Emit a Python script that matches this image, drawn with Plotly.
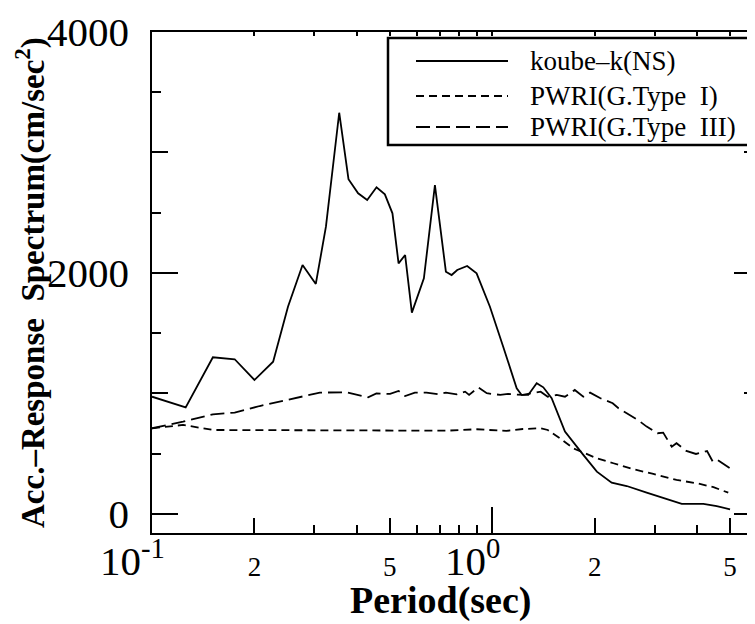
import numpy as np
import plotly.graph_objects as go

# ---------------- data ----------------
period_ns = [0.1, 0.1256, 0.151, 0.175, 0.2, 0.227, 0.251, 0.277, 0.303, 0.3245,
             0.355, 0.378, 0.4035, 0.429, 0.457, 0.4835, 0.509, 0.5305, 0.5546, 0.5805,
             0.6297, 0.6785, 0.7308, 0.7596, 0.789, 0.844, 0.8996, 0.9845, 1.077, 1.18,
             1.22, 1.276, 1.351, 1.413, 1.495, 1.636, 1.852, 2.03, 2.244, 2.485,
             2.844, 3.26, 3.606, 4.175, 4.57, 5.0]
acc_ns = [973, 885, 1300, 1284, 1112, 1264, 1720, 2066, 1909, 2384,
          3330, 2778, 2661, 2606, 2711, 2653, 2495, 2080, 2149, 1671,
          1956, 2730, 2011, 1983, 2025, 2058, 1997, 1720, 1388, 1043,
          988, 988, 1085, 1051, 960, 683, 490, 351, 260, 232,
          177, 122, 83, 83, 66, 39]

period_t1 = [0.1, 0.1234, 0.151, 0.2, 0.3, 0.4, 0.5, 0.6, 0.7308, 0.9, 1.1, 1.23,
             1.388, 1.456, 1.582, 1.73, 1.895, 2.03, 2.27, 2.60, 2.975, 3.48, 3.99,
             4.47, 4.94]
acc_t1 = [711, 739, 697, 697, 697, 697, 697, 697, 691, 703, 689, 705,
          711, 697, 628, 545, 498, 462, 421, 371, 332, 282, 255,
          222, 177]

period_t3 = [0.1, 0.1234, 0.151, 0.175, 0.2073, 0.2485, 0.2845, 0.3114, 0.373, 0.408,
             0.4318, 0.4566, 0.501, 0.5305, 0.5546, 0.5923, 0.6407, 0.6937, 0.7308, 0.7865,
             0.8325, 0.855, 0.9104, 0.9636, 1.0557, 1.1137, 1.23, 1.388, 1.456, 1.547,
             1.636, 1.748, 1.852, 1.939, 2.08, 2.26, 2.35, 2.485, 2.68, 2.844,
             3.06, 3.18, 3.37, 3.48, 3.72, 3.97, 4.28, 4.45, 4.6, 5.0]
acc_t3 = [711, 766, 827, 841, 896, 946, 988, 1007, 1010, 988,
          968, 1001, 996, 1021, 979, 1007, 1007, 993, 1007, 993,
          1015, 988, 1051, 1002, 988, 996, 988, 1015, 973, 988,
          973, 1029, 973, 1007, 960, 919, 877, 836, 780, 725,
          670, 675, 558, 587, 523, 498, 523, 434, 448, 379]

series_names = ["koube\u2013k(NS)", "PWRI(G.Type\u00a0 I)", "PWRI(G.Type\u00a0 III)"]

x_decade_vals = [0.1, 1]
x_decade_text = ["10<sup>-1</sup>", "10<sup>0</sup>"]
x_mid_vals = [0.2, 0.5, 2, 5]
x_mid_text = ["2", "5", "2", "5"]
x_minor_vals = [0.3, 0.4, 0.6, 0.7, 0.8, 0.9, 3, 4]
y_major_vals = [0, 2000, 4000]
y_major_text = ["0", "2000", "4000"]
y_mid_vals = [1000, 3000]
y_minor_vals = [500, 1500, 2500, 3500]

x_range = [-1, 0.787]
y_range = [-158, 4000]

FONT = "Liberation Serif, Times New Roman, serif"
OFF = 8  # page body margin of the browser
W, H = 755, 624
ML, MR, MT, MB = 144, 3, 24, 99
PW, PH = W - ML - MR, H - MT - MB


def xp(px):
    """screen pixel x -> paper coordinate"""
    return (px - OFF - ML) / PW


def yp(py):
    """screen pixel y -> paper coordinate"""
    return (H - MB - (py - OFF)) / PH


fig = go.Figure()
dashes = ["solid", "8px,5px", "14px,6px"]
for per, acc, name, dash in [(period_ns, acc_ns, series_names[0], dashes[0]),
                             (period_t1, acc_t1, series_names[1], dashes[1]),
                             (period_t3, acc_t3, series_names[2], dashes[2])]:
    fig.add_trace(go.Scatter(x=per, y=acc, mode="lines", name=name,
                             line=dict(color="black", width=1.8, dash=dash),
                             showlegend=False))

# dummy traces so that the extra tick axes are drawn
for xa, ya in [("x2", "y"), ("x3", "y"), ("x", "y2"), ("x", "y3"), ("x", "y4")]:
    fig.add_trace(go.Scatter(x=[None], y=[None], xaxis=xa, yaxis=ya,
                             showlegend=False, hoverinfo="skip"))

common_x = dict(type="log", range=x_range, showgrid=False, zeroline=False,
                ticks="inside", tickcolor="black", tickwidth=1.5, automargin=False)
common_y = dict(range=y_range, showgrid=False, zeroline=False,
                ticks="inside", tickcolor="black", tickwidth=1.5, automargin=False)

fig.update_layout(
    width=W, height=H,
    margin=dict(l=ML, r=MR, t=MT, b=MB, autoexpand=False),
    paper_bgcolor="white", plot_bgcolor="white",
    font=dict(family=FONT, color="black"),
    xaxis=dict(**common_x, tickmode="array", tickvals=x_mid_vals, ticktext=x_mid_text,
               ticklen=15, tickfont=dict(size=27, family=FONT), ticklabelstandoff=9,
               minor=dict(tickmode="array", tickvals=x_minor_vals, ticks="inside",
                          ticklen=8, tickwidth=1.5, tickcolor="black"),
               showline=True, linecolor="black", linewidth=2, mirror=True),
    xaxis2=dict(**common_x, overlaying="x", anchor="y", side="bottom",
                tickmode="array", tickvals=x_decade_vals, ticklen=26,
                showticklabels=False, showline=False),
    xaxis3=dict(**common_x, overlaying="x", anchor="y", side="top",
                tickmode="array", tickvals=x_decade_vals + x_mid_vals + x_minor_vals,
                ticklen=4, showticklabels=False, showline=False),
    yaxis=dict(**common_y, tickmode="array", tickvals=y_major_vals, ticktext=y_major_text,
               ticklen=26, tickfont=dict(size=41, family=FONT), ticklabelstandoff=13,
               minor=dict(tickmode="array", tickvals=y_minor_vals, ticks="inside",
                          ticklen=9, tickwidth=1.5, tickcolor="black"),
               showline=True, linecolor="black", linewidth=1.5, mirror=True),
    yaxis2=dict(**common_y, overlaying="y", anchor="x", side="left",
                tickmode="array", tickvals=y_mid_vals, ticklen=16,
                showticklabels=False, showline=False),
    yaxis3=dict(**common_y, overlaying="y", anchor="x", side="right",
                tickmode="array", tickvals=y_major_vals, ticklen=26,
                minor=dict(tickmode="array", tickvals=y_minor_vals, ticks="inside",
                           ticklen=9, tickwidth=1.5, tickcolor="black"),
                showticklabels=False, showline=False),
    yaxis4=dict(**common_y, overlaying="y", anchor="x", side="right",
                tickmode="array", tickvals=y_mid_vals, ticklen=16,
                showticklabels=False, showline=False),
)

annotations = []
# decade tick labels (shifted left like the original)
for v, t in zip(x_decade_vals, x_decade_text):
    annotations.append(dict(x=float(np.log10(v)), y=0, xref="x", yref="paper",
                            text=t, showarrow=False, xanchor="center", yanchor="top",
                            xshift=-20, yshift=3,
                            font=dict(size=41, family=FONT, color="black")))
# axis titles
annotations.append(dict(x=xp(440), y=yp(600), xref="paper", yref="paper",
                        text="<b>Period(sec)</b>", showarrow=False,
                        xanchor="center", yanchor="middle",
                        font=dict(size=38, family=FONT, color="black")))
annotations.append(dict(x=xp(30), y=yp(283), xref="paper", yref="paper",
                        text="<b>Acc.\u2013Response\u00a0 Spectrum(cm/sec<sup>2</sup>)</b>",
                        showarrow=False, textangle=-90,
                        xanchor="center", yanchor="middle",
                        font=dict(size=33, family=FONT, color="black")))

# custom legend
shapes = [dict(type="rect", xref="paper", yref="paper",
               x0=xp(388), x1=xp(753), y0=yp(145), y1=yp(38),
               line=dict(color="black", width=2.5), fillcolor="white", layer="above")]
row_y = [61, 96, 127]
for name, dash, ry in zip(series_names, dashes, row_y):
    shapes.append(dict(type="line", xref="paper", yref="paper",
                       x0=xp(416), x1=xp(508), y0=yp(ry), y1=yp(ry),
                       line=dict(color="black", width=1.8, dash=dash)))
    annotations.append(dict(x=xp(528), y=yp(ry), xref="paper", yref="paper",
                            text=name, showarrow=False, xanchor="left", yanchor="middle",
                            font=dict(size=27, family=FONT, color="black")))

fig.update_layout(shapes=shapes, annotations=annotations)
fig.write_html("out.html")
